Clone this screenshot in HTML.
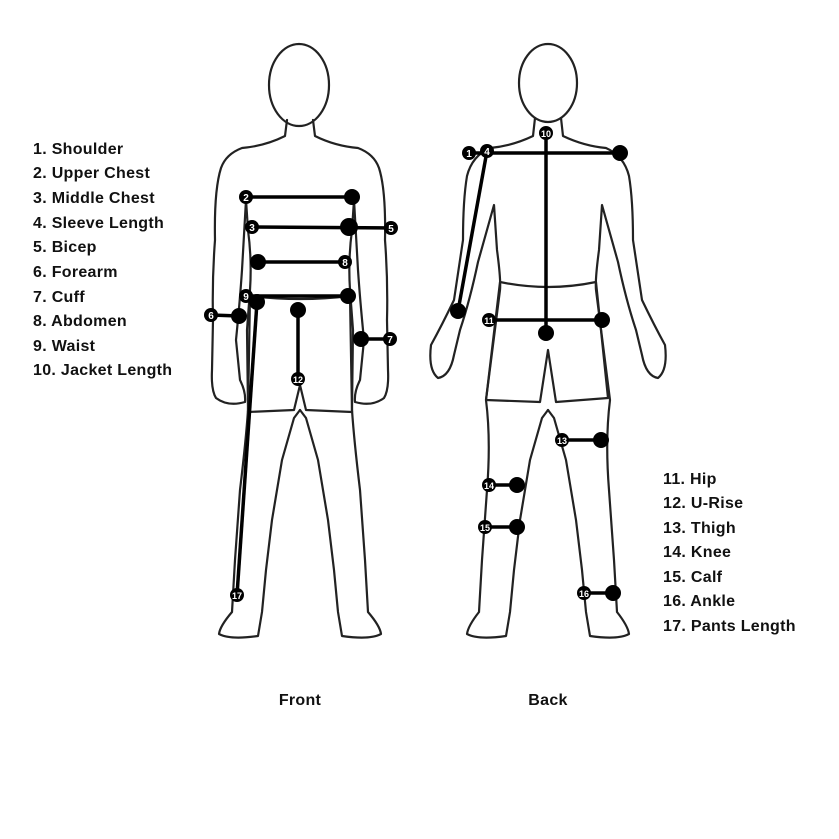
<!DOCTYPE html>
<html><head><meta charset="utf-8"><style>
html,body{margin:0;padding:0;background:#fff;}
svg{display:block;}
.t{font-family:"Liberation Sans",sans-serif;font-weight:bold;font-size:16px;fill:#111;letter-spacing:0.3px;}
.n{font-family:"Liberation Sans",sans-serif;font-weight:bold;font-size:10px;fill:#fff;text-anchor:middle;}
.b{fill:none;stroke:#222;stroke-width:2.2;stroke-linejoin:round;stroke-linecap:round;}
.m{stroke:#000;stroke-width:3.5;}
</style></head><body>
<svg width="839" height="839" viewBox="0 0 839 839" xmlns="http://www.w3.org/2000/svg">
<defs>
<path id="half" d="M287,120 L285,136 Q265,146 242,148 Q226,154 221,168 Q214,190 215,240 Q212,280 213,320 L212,370 Q211,390 216,398 Q228,407 245,402 Q246,392 240,380 L236,340 Q240,300 242,270 L246,200 L248,230 Q252,260 250,290 L247,330 L248,410 Q246,440 240,490 L235,560 L232,612 Q220,626 219,634 Q230,640 258,636 L262,612 L266,570 L272,520 L282,460 L294,418 L300,410"/>
<path id="bhalf" d="M535,118 L533,136 Q512,146 490,148 Q472,156 467,176 Q463,200 463,240 L454,300 Q442,325 431,345 Q428,370 438,378 Q450,376 454,355 L460,330 Q470,300 478,262 L494,205 L497,250 Q501,280 500,290 L486,400 Q491,440 487,490 L482,560 L479,612 Q468,626 467,634 Q478,640 506,636 L510,612 L514,570 L520,520 L530,460 L542,418 L548,410"/>
<path id="shorts" d="M250,296 Q300,302 350,296 L352,412 L306,410 L300,385 L294,410 L248,412 Z"/>
</defs>
<!-- front -->
<g class="b">
<ellipse cx="299" cy="85" rx="30" ry="41"/>
<use href="#half"/>
<use href="#half" transform="translate(600,0) scale(-1,1)"/>
<use href="#shorts"/>
</g>
<!-- back -->
<g class="b">
<ellipse cx="548" cy="83" rx="29" ry="39"/>
<use href="#bhalf"/>
<use href="#bhalf" transform="translate(1096,0) scale(-1,1)"/>
<path d="M500,282 Q548,292 596,282 L608,398 L556,402 L548,350 L540,402 L486,400 Z"/>
</g>

<g class="m">
<line x1="246" y1="197" x2="352" y2="197"/>
<line x1="252" y1="227" x2="391" y2="228"/>
<line x1="258" y1="262" x2="345" y2="262"/>
<line x1="246" y1="296" x2="348" y2="296"/>
<line x1="211" y1="315" x2="239" y2="316"/>
<line x1="361" y1="339" x2="390" y2="339"/>
<line x1="298" y1="310" x2="298" y2="379"/>
<line x1="257" y1="302" x2="237" y2="595"/>
<line x1="469" y1="153" x2="620" y2="153"/>
<line x1="487" y1="151" x2="458" y2="311"/>
<line x1="546" y1="133" x2="546" y2="333"/>
<line x1="489" y1="320" x2="602" y2="320"/>
<line x1="562" y1="440" x2="601" y2="440"/>
<line x1="489" y1="485" x2="517" y2="485"/>
<line x1="485" y1="527" x2="517" y2="527"/>
<line x1="584" y1="593" x2="613" y2="593"/>
</g>
<g fill="#000">
<circle cx="352" cy="197" r="8"/><circle cx="349" cy="227" r="9"/><circle cx="258" cy="262" r="8"/>
<circle cx="348" cy="296" r="8"/><circle cx="239" cy="316" r="8"/><circle cx="361" cy="339" r="8"/>
<circle cx="298" cy="310" r="8"/><circle cx="257" cy="302" r="8"/>
<circle cx="620" cy="153" r="8"/><circle cx="458" cy="311" r="8"/><circle cx="546" cy="333" r="8"/>
<circle cx="602" cy="320" r="8"/><circle cx="601" cy="440" r="8"/><circle cx="517" cy="485" r="8"/>
<circle cx="517" cy="527" r="8"/><circle cx="613" cy="593" r="8"/>
<circle cx="246" cy="197" r="7"/><circle cx="252" cy="227" r="7"/><circle cx="391" cy="228" r="7"/>
<circle cx="345" cy="262" r="7"/><circle cx="246" cy="296" r="7"/><circle cx="211" cy="315" r="7"/>
<circle cx="390" cy="339" r="7"/><circle cx="298" cy="379" r="7"/><circle cx="237" cy="595" r="7"/>
<circle cx="469" cy="153" r="7"/><circle cx="487" cy="151" r="7"/><circle cx="546" cy="133" r="7"/>
<circle cx="489" cy="320" r="7"/><circle cx="562" cy="440" r="7"/><circle cx="489" cy="485" r="7"/>
<circle cx="485" cy="527" r="7"/><circle cx="584" cy="593" r="7"/>
</g>
<g class="n">
<text x="246" y="201">2</text><text x="252" y="231">3</text><text x="391" y="232">5</text>
<text x="345" y="266">8</text><text x="246" y="300">9</text><text x="211" y="319">6</text>
<text x="390" y="343">7</text><text x="298" y="383" font-size="9">12</text><text x="237" y="599" font-size="9">17</text>
<text x="469" y="157">1</text><text x="487" y="155">4</text><text x="546" y="137" font-size="9">10</text>
<text x="489" y="324" font-size="9">11</text><text x="562" y="444" font-size="9">13</text><text x="489" y="489" font-size="9">14</text>
<text x="485" y="531" font-size="9">15</text><text x="584" y="597" font-size="9">16</text>
</g>

<g class="t">
<text x="33" y="154">1.  Shoulder</text>
<text x="33" y="178">2.  Upper Chest</text>
<text x="33" y="203">3.  Middle Chest</text>
<text x="33" y="228">4.  Sleeve Length</text>
<text x="33" y="252">5.  Bicep</text>
<text x="33" y="277">6.  Forearm</text>
<text x="33" y="302">7.  Cuff</text>
<text x="33" y="326">8.  Abdomen</text>
<text x="33" y="351">9.  Waist</text>
<text x="33" y="375">10. Jacket Length</text>
<text x="663" y="484">11. Hip</text>
<text x="663" y="508">12. U-Rise</text>
<text x="663" y="533">13. Thigh</text>
<text x="663" y="557">14. Knee</text>
<text x="663" y="582">15. Calf</text>
<text x="663" y="606">16. Ankle</text>
<text x="663" y="631">17. Pants Length</text>
<text x="300" y="705" text-anchor="middle">Front</text>
<text x="548" y="705" text-anchor="middle">Back</text>
</g>
</svg>
</body></html>
